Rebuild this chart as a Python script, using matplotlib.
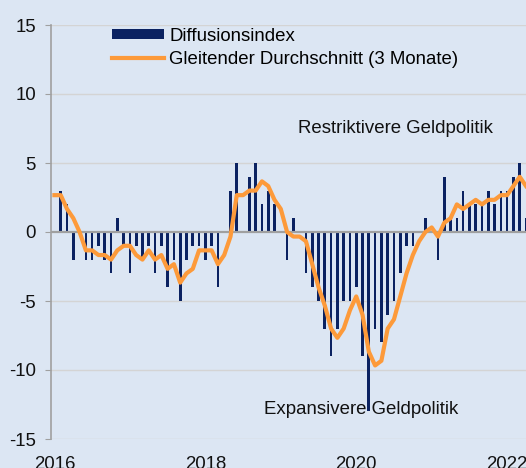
import matplotlib
matplotlib.use("Agg")
import matplotlib.pyplot as plt
import numpy as np

# monthly values, Jan 2016 .. Apr 2022
diffusion = [0, 3, 2, -2, 0, -2, -2, -1, -2, -3, 1,
             -1, -3, -1, -2, -1, -3, -1, -4, -2, -5,
             -2, -1, -1, -2, -1, -4, 0, 3, 5, 0,
             4, 5, 2, 3, 2, 0, -2, 1, 0, -3,
             -4, -5, -7, -9, -7, -5, -5, -4, -9, -13,
             -7, -8, -6, -5, -3, -1, -1, 0, 1, 0,
             -2, 4, 1, 1, 3, 2, 2, 2, 3, 2,
             3, 3, 4, 5, 1]
moving_avg = [2.67, 2.67, 1.67, 1.0, 0.0, -1.33, -1.33, -1.67, -1.67, -2.0, -1.33,
              -1.0, -1.0, -1.67, -2.0, -1.33, -2.0, -1.67, -2.67, -2.33, -3.67,
              -3.0, -2.67, -1.33, -1.33, -1.33, -2.33, -1.67, -0.33, 2.67, 2.67,
              3.0, 3.0, 3.67, 3.33, 2.33, 1.67, 0.0, -0.33, -0.33, -0.67,
              -2.33, -4.0, -5.33, -7.0, -7.67, -7.0, -5.67, -4.67, -6.0, -8.67,
              -9.67, -9.33, -7.0, -6.33, -4.67, -3.0, -1.67, -0.67, 0.0, 0.33,
              -0.33, 0.67, 1.0, 2.0, 1.67, 2.0, 2.33, 2.0, 2.33, 2.33,
              2.67, 2.67, 3.33, 4.0, 3.33]
year_labels = ["2016", "2018", "2020", "2022"]
year_months = [0, 24, 48, 72]

BG = "#dce6f3"
NAVY = "#0b2261"
ORANGE = "#fd9a3a"
FS = 13.4

plt.rcParams["font.family"] = ["Liberation Sans", "DejaVu Sans"]
plt.rcParams["axes.unicode_minus"] = False

fig = plt.figure(figsize=(5.26, 4.68), dpi=100, facecolor=BG)
ax = fig.add_axes([51.3 / 526, 1 - 439 / 468, 1 - 51.3 / 526, (439 - 25) / 468])
ax.set_facecolor(BG)

x = np.arange(len(diffusion))
bars = ax.bar(x, diffusion, width=0.42, color=NAVY, zorder=2)
line, = ax.plot(x, moving_avg, color=ORANGE, lw=3.0, zorder=4, solid_joinstyle="round")

for v in [-15, -10, -5, 5, 10, 15]:
    ax.axhline(v, color="#d4d4d4", lw=1.0, zorder=1)
ax.axhline(0, color="#a0a0a0", lw=1.6, zorder=3)

ax.set_xlim(-0.5, 75.0)
ax.set_ylim(-15, 15)
ax.set_yticks([-15, -10, -5, 0, 5, 10, 15])
ax.set_xticks(year_months)
ax.set_xticklabels(year_labels)

for s in ["top", "right", "bottom"]:
    ax.spines[s].set_visible(False)
ax.spines["left"].set_color("#a0a0a0")
ax.spines["left"].set_linewidth(1.2)
ax.tick_params(axis="y", length=4, color="#a0a0a0", pad=7, labelsize=FS, labelcolor="#111111")
ax.tick_params(axis="x", length=0, pad=12, labelsize=FS, labelcolor="#111111")

ax.text(38.8, 7.15, "Restriktivere Geldpolitik", fontsize=FS, color="#111111",
        ha="left", va="baseline")
ax.text(33.4, -13.19, "Expansivere Geldpolitik", fontsize=FS, color="#111111",
        ha="left", va="baseline", zorder=5)

ax.legend([bars, line], ["Diffusionsindex", "Gleitender Durchschnitt (3 Monate)"],
          loc="upper left", bbox_to_anchor=(112 / 526, 1 - 28 / 468),
          bbox_transform=fig.transFigure, frameon=False, fontsize=FS,
          handlelength=2.8, handleheight=0.43, handletextpad=0.28,
          labelspacing=0.3, borderpad=0, borderaxespad=0)

fig.savefig("out.png", dpi=100, facecolor=BG)
